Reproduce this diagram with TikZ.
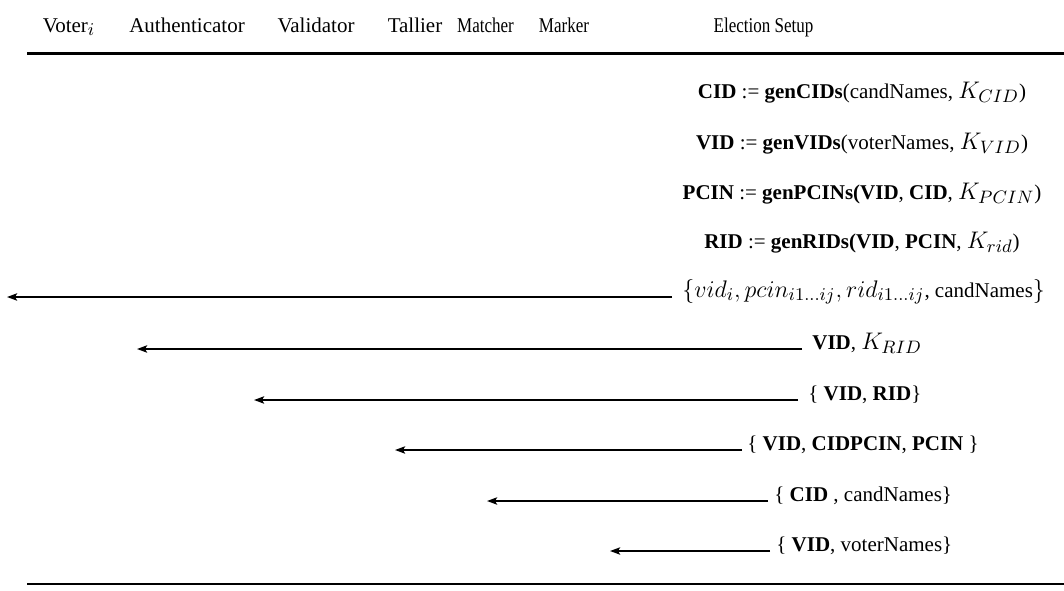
\documentclass[tikz,border=0pt]{standalone}
\usepackage{fontspec}
\usepackage{graphicx}
\setmainfont{Liberation Serif}
\DeclareMathSizes{10.5}{12.4}{8.8}{6.6}
\usetikzlibrary{arrows.meta}
\newcommand{\condensed}[1]{\scalebox{0.81}[1]{#1}}
\begin{document}
\begin{tikzpicture}[x=0.5pt,y=-0.5pt,
  every node/.style={font=\fontsize{10.5}{12}\selectfont},
  role/.style={anchor=base,inner sep=0pt},
  eqn/.style={anchor=base,inner sep=0pt},
  msg/.style={anchor=base west,inner ysep=0pt,inner xsep=4pt},
  rule/.style={line width=1.5pt},
  flow/.style={line width=1pt,-{Stealth[length=5pt,width=3.6pt,inset=1pt]}}]
\useasboundingbox (0,0) rectangle (1064,590);
% header
\node[role] (voter) at (69,32) {Voter$_i$};
\node[role] (auth) at (187,32) {Authenticator};
\node[role] (valid) at (316,32) {Validator};
\node[role] (tall) at (415,32) {Tallier};
\node[role] (match) at (485.5,32) {\condensed{Matcher}};
\node[role] (mark) at (564,32) {\condensed{Marker}};
\node[role] (setup) at (763.5,32) {\condensed{Election Setup}};
\coordinate (tl) at (27,53); \coordinate (tr) at (1064,53);
\draw[rule] (tl) -- (tr);
% setup computations
\node[eqn] (e1) at (862,98) {\textbf{CID} := \textbf{genCIDs}(candNames, $K_{CID}$)};
\node[eqn] (e2) at (862,149) {\textbf{VID} := \textbf{genVIDs}(voterNames, $K_{VID}$)};
\node[eqn] (e3) at (862,199) {\textbf{PCIN} := \textbf{genPCINs(VID}, \textbf{CID}, $K_{PCIN}$)};
\node[eqn] (e4) at (862,248) {\textbf{RID} := \textbf{genRIDs(VID}, \textbf{PCIN}, $K_{rid}$)};
% messages
\node[msg,inner xsep=5pt] (m1) at (672,297) {$\{vid_i, pcin_{i1\ldots ij}, rid_{i1\ldots ij}$, candNames$\}$};
\node[msg,inner xsep=5pt] (m2) at (802,349) {\textbf{VID}, $K_{RID}$};
\node[msg,inner xsep=5pt] (m3) at (798,400) {\{ \textbf{VID}, \textbf{RID}\}};
\node[msg,inner xsep=2.5pt] (m4) at (742,450) {\{ \textbf{VID}, \textbf{CIDPCIN}, \textbf{PCIN} \}};
\node[msg,inner xsep=3pt] (m5) at (768,501) {\{ \textbf{CID} , candNames\}};
\node[msg,inner xsep=3pt] (m6) at (770,551) {\{ \textbf{VID}, voterNames\}};
\coordinate (t1) at (7,297);
\coordinate (t2) at (137,349);
\coordinate (t3) at (254,400);
\coordinate (t4) at (395,450);
\coordinate (t5) at (487,501);
\coordinate (t6) at (610,551);
\draw[flow] (m1.base west) -- (t1);
\draw[flow] (m2.base west) -- (t2);
\draw[flow] (m3.base west) -- (t3);
\draw[flow] (m4.base west) -- (t4);
\draw[flow] (m5.base west) -- (t5);
\draw[flow] (m6.base west) -- (t6);
\coordinate (bl) at (27,584); \coordinate (br) at (1064,584);
\draw[line width=1.2pt] (bl) -- (br);
\end{tikzpicture}
\end{document}
